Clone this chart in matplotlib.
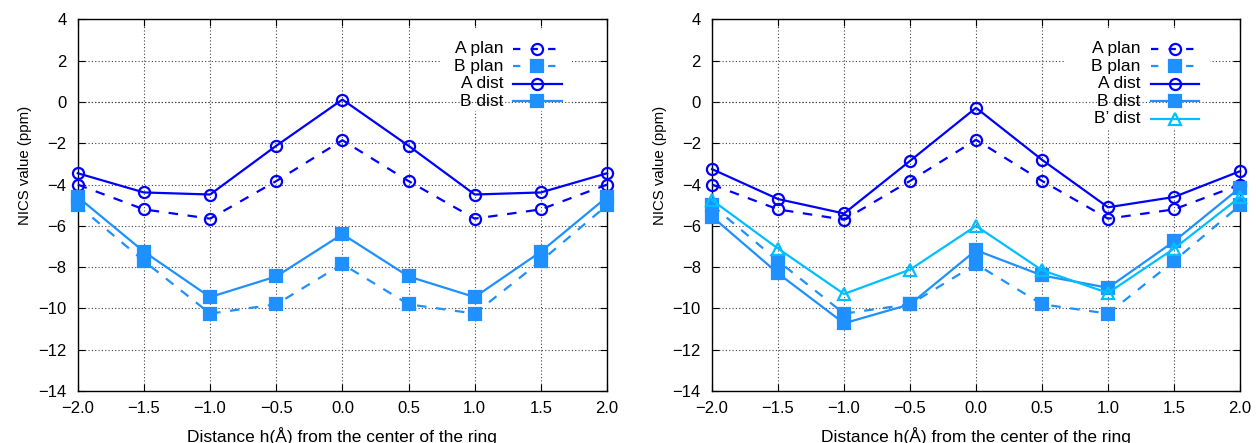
import matplotlib
matplotlib.use("Agg")
import matplotlib.pyplot as plt
from matplotlib.lines import Line2D
from matplotlib.patches import Rectangle

plt.rcParams['font.family'] = ['Liberation Sans', 'DejaVu Sans']

# ---- data ----
h = [-2.0, -1.5, -1.0, -0.5, 0.0, 0.5, 1.0, 1.5, 2.0]

A_plan_L = [-4.0, -5.2, -5.65, -3.83, -1.85, -3.83, -5.65, -5.2, -4.0]
B_plan_L = [-5.0, -7.7, -10.25, -9.8, -7.85, -9.8, -10.25, -7.7, -5.0]
A_dist_L = [-3.45, -4.38, -4.48, -2.12, 0.12, -2.12, -4.48, -4.38, -3.45]
B_dist_L = [-4.6, -7.25, -9.45, -8.45, -6.4, -8.45, -9.45, -7.25, -4.6]

A_plan_R = [-4.0, -5.2, -5.7, -3.82, -1.83, -3.82, -5.65, -5.2, -4.0]
B_plan_R = [-5.0, -7.7, -10.25, -9.8, -7.85, -9.8, -10.25, -7.7, -5.0]
A_dist_R = [-3.25, -4.7, -5.4, -2.85, -0.28, -2.8, -5.1, -4.6, -3.35]
B_dist_R = [-5.55, -8.3, -10.72, -9.8, -7.18, -8.4, -9.0, -6.75, -4.15]
Bp_dist_R = [-4.75, -7.1, -9.3, -8.12, -6.0, -8.15, -9.25, -7.1, -4.6]

xticks = [-2.0, -1.5, -1.0, -0.5, 0.0, 0.5, 1.0, 1.5, 2.0]
yticks = [-14, -12, -10, -8, -6, -4, -2, 0, 2, 4]

xlabel = "Distance h(Å) from the center of the ring"
ylabel = "NICS value (ppm)"

C_A = '#0000ff'
C_B = '#1e90ff'
C_BP = '#00bfff'
DASH = (0, (4.3, 4.3))
LEG_DASH = (0, (3.3, 4.6))
GRID_LS = (0, (1, 2))

fig = plt.figure(figsize=(12.56, 4.43), dpi=100)
ax1 = fig.add_axes([0.0619, 0.1174, 0.4214, 0.8386])
ax2 = fig.add_axes([0.5669, 0.1174, 0.4204, 0.8386])


def style(ax):
    ax.set_xlim(-2.0, 2.0)
    ax.set_ylim(-14, 4)
    ax.set_xticks(xticks)
    ax.set_xticklabels([f"{v:.1f}".replace('-', '\u2212') for v in xticks])
    ax.set_yticks(yticks)
    ax.set_yticklabels([f"{v}".replace('-', '\u2212') for v in yticks])
    ax.tick_params(axis='both', direction='in', top=True, right=True,
                   length=5, width=0.8, labelsize=12)
    ax.tick_params(axis='x', pad=7)
    ax.tick_params(axis='y', pad=8)
    ax.grid(True, color='0.25', linestyle=GRID_LS, linewidth=0.8)
    ax.set_axisbelow(True)
    for s in ax.spines.values():
        s.set_linewidth(1.0)
    ax.set_xlabel(xlabel, fontsize=12.5)
    ax.set_ylabel(ylabel, fontsize=10.8)
    ax.xaxis.set_label_coords(0.5, -0.121)
    ax.xaxis.label.set_va('center')
    ax.yaxis.set_label_coords(-0.099, 0.608)
    ax.yaxis.label.set_va('center')


def mstyle(color, marker, filled):
    return dict(marker=marker, markersize=8.5 if marker == '^' else 8,
                markerfacecolor=color if filled else 'none',
                markeredgecolor=color, markeredgewidth=1.6)


entries = {ax1: [], ax2: []}


def series(ax, y, color, ls, marker, label, filled):
    ax.plot(h, y, color=color, linestyle=ls, linewidth=1.6,
            clip_on=False, zorder=3, **mstyle(color, marker, filled))
    entries[ax].append((label, color, ls, marker, filled))


def legend(ax, xt, xs0, xs1, ytop, dy, box):
    # opaque key background (hides the grid behind it)
    bx0, by0, bx1, by1 = box
    ax.add_patch(Rectangle((bx0, by0), bx1 - bx0, by1 - by0,
                           transform=ax.transAxes, facecolor='white',
                           edgecolor='none', zorder=1.5))
    # zero axis drawn on top of the key background
    ax.axhline(0, color='0.25', linestyle=GRID_LS, linewidth=0.8, zorder=1.6)
    for i, (label, color, ls, marker, filled) in enumerate(entries[ax]):
        yy = ytop - i * dy
        ax.text(xt, yy, label, transform=ax.transAxes, ha='right',
                va='center', fontsize=12.5, zorder=5)
        lsl = LEG_DASH if ls != '-' else '-'
        ax.add_line(Line2D([xs0, xs1], [yy, yy], transform=ax.transAxes,
                           color=color, linestyle=lsl, linewidth=1.6,
                           zorder=5))
        ax.add_line(Line2D([(xs0 + xs1) / 2], [yy], transform=ax.transAxes,
                           linestyle='none', zorder=6,
                           **mstyle(color, marker, filled)))


style(ax1)
series(ax1, A_plan_L, C_A, DASH, 'o', 'A plan', False)
series(ax1, B_plan_L, C_B, DASH, 's', 'B plan', True)
series(ax1, A_dist_L, C_A, '-', 'o', 'A dist', False)
series(ax1, B_dist_L, C_B, '-', 's', 'B dist', True)

style(ax2)
series(ax2, A_plan_R, C_A, DASH, 'o', 'A plan', False)
series(ax2, B_plan_R, C_B, DASH, 's', 'B plan', True)
series(ax2, A_dist_R, C_A, '-', 'o', 'A dist', False)
series(ax2, B_dist_R, C_B, '-', 's', 'B dist', True)
series(ax2, Bp_dist_R, C_BP, '-', '^', 'B\u2019 dist', False)

legend(ax1, 0.8035, 0.822, 0.915, 0.9206, 0.0471,
       (0.6845, 0.7537, 0.934, 0.9717))
legend(ax2, 0.8106, 0.8314, 0.9223, 0.9206, 0.0471,
       (0.6686, 0.708, 0.943, 0.9717))

fig.savefig('out.png', dpi=100)
